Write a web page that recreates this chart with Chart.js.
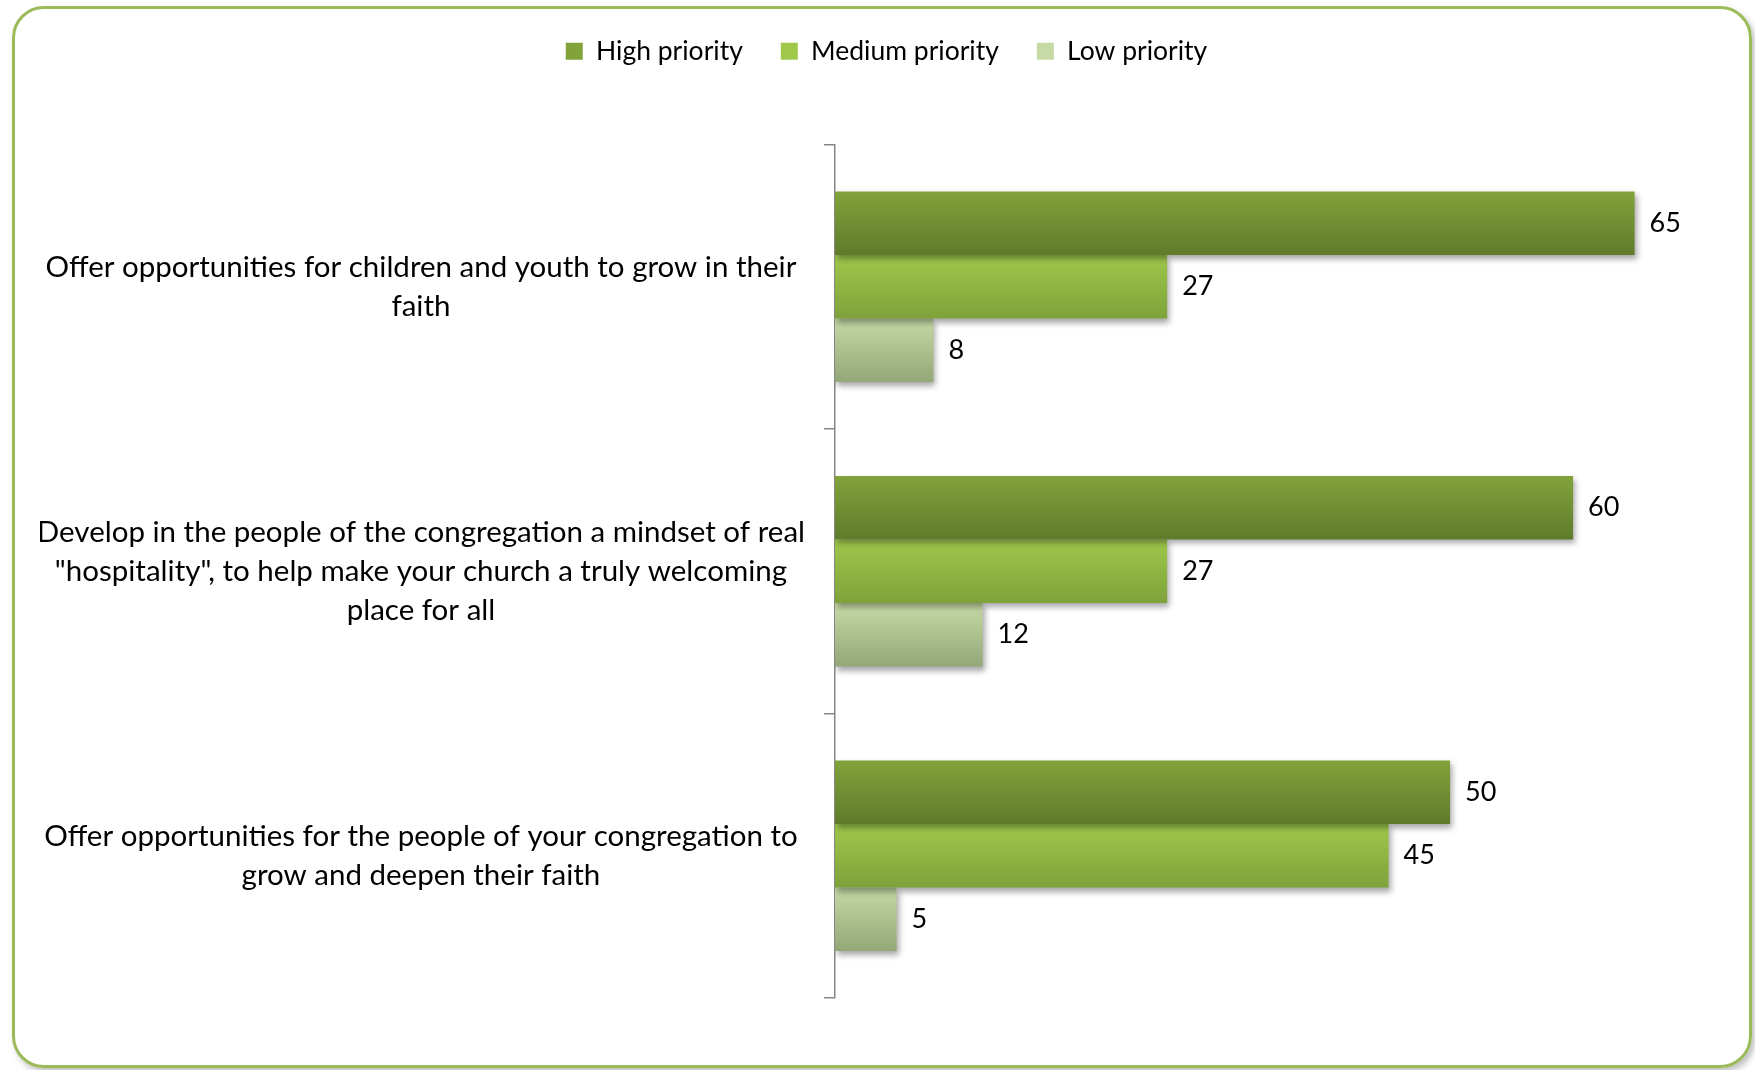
<!DOCTYPE html>
<html lang="en">
<head>
  <meta charset="UTF-8">
  <title>Priorities</title>
  <script src="https://cdn.jsdelivr.net/npm/chart.js"></script>
  <style>
    html, body { margin: 0; padding: 0; background: #fff; }
    .frame {
      position: absolute; left: 12px; top: 6px; width: 1734px; height: 1056px;
      border: 3px solid #9bbb59; border-radius: 32px;
      box-shadow: 3px 4px 6px rgba(0,0,0,0.25);
    }
    #chart { position: absolute; left: 0; top: 0; }
  </style>
</head>
<body>
  <div class="frame"></div>
  <canvas id="chart" width="1755" height="1070"></canvas>

  <script>
    // data
    const categories = [
      ['Offer opportunities for children and youth to grow in their', 'faith'],
      ['Develop in the people of the congregation a mindset of real', '"hospitality", to help make your church a truly welcoming', 'place for all'],
      ['Offer opportunities for the people of your congregation to', 'grow and deepen their faith']
    ];
    const seriesNames = ['High priority', 'Medium priority', 'Low priority'];
    const highValues = [65, 60, 50];
    const mediumValues = [27, 27, 45];
    const lowValues = [8, 12, 5];

    const gradStops = [
      ['#82a33b', '#5f7b2b'],
      ['#9fc84b', '#7ea23a'],
      ['#c6daa6', '#93a777']
    ];
    const FONT = 'Lato';
    const CAT_PCT = 0.67;

    // vertical gradient per bar, bar position taken from the y scale
    function barGradient(c) {
      const chart = c.chart;
      const y = chart.scales.y;
      const stops = gradStops[c.datasetIndex];
      if (!y || y.height == null) return stops[0];
      const catH = y.height / categories.length;
      const barH = catH * CAT_PCT / seriesNames.length;
      const center = y.getPixelForValue(c.dataIndex);
      const top = center - catH * CAT_PCT / 2 + c.datasetIndex * barH;
      const g = chart.ctx.createLinearGradient(0, top, 0, top + barH);
      g.addColorStop(0, stops[0]);
      g.addColorStop(1, stops[1]);
      return g;
    }

    // extra room under the legend
    const legendGap = {
      id: 'legendGap',
      beforeInit(chart) {
        const fit = chart.legend.fit;
        chart.legend.fit = function () {
          fit.call(this);
          this.height += 70;
        };
      }
    };

    const barShadow = {
      id: 'barShadow',
      beforeDatasetsDraw(chart) {
        const ctx = chart.ctx;
        ctx.save();
        ctx.shadowColor = 'rgba(0,0,0,0.35)';
        ctx.shadowBlur = 6;
        ctx.shadowOffsetX = 2;
        ctx.shadowOffsetY = 4;
      },
      afterDatasetsDraw(chart) {
        chart.ctx.restore();
      }
    };

    const valueLabels = {
      id: 'valueLabels',
      afterDatasetsDraw(chart) {
        const ctx = chart.ctx;
        ctx.save();
        ctx.font = '27px ' + FONT;
        ctx.fillStyle = '#000';
        ctx.textAlign = 'left';
        ctx.textBaseline = 'middle';
        chart.data.datasets.forEach((ds, i) => {
          chart.getDatasetMeta(i).data.forEach((bar, j) => {
            ctx.fillText(ds.data[j], bar.x + 15, bar.y);
          });
        });
        ctx.restore();
      }
    };

    const data = {
      labels: categories,
      datasets: [
        { label: seriesNames[0], data: highValues, backgroundColor: barGradient },
        { label: seriesNames[1], data: mediumValues, backgroundColor: barGradient },
        { label: seriesNames[2], data: lowValues, backgroundColor: barGradient }
      ]
    };

    new Chart(document.getElementById('chart'), {
      type: 'bar',
      data: data,
      plugins: [legendGap, barShadow, valueLabels],
      options: {
        indexAxis: 'y',
        responsive: false,
        animation: false,
        layout: { padding: { left: 40, right: 22, top: 0, bottom: 72 } },
        datasets: { bar: { categoryPercentage: CAT_PCT, barPercentage: 1.0 } },
        scales: {
          x: { display: false, min: 0, max: 73 },
          y: {
            afterFit(scale) { scale.width = 795; },
            border: { display: true, color: '#868686', width: 1.5 },
            grid: { display: true, drawOnChartArea: false, tickLength: 11, color: '#868686', lineWidth: 1.5 },
            ticks: {
              crossAlign: 'center',
              padding: 19,
              color: '#000',
              font: { family: FONT, size: 29.5, lineHeight: 1.33 }
            }
          }
        },
        plugins: {
          tooltip: { enabled: false },
          legend: {
            position: 'top',
            labels: {
              color: '#000',
              font: { family: FONT, size: 26.5 },
              boxWidth: 17,
              boxHeight: 17,
              padding: 38,
              generateLabels(chart) {
                return seriesNames.map((name, i) => ({
                  text: name,
                  fillStyle: gradStops[i][0],
                  strokeStyle: gradStops[i][0],
                  lineWidth: 0,
                  datasetIndex: i
                }));
              }
            }
          }
        }
      }
    });
  </script>
</body>
</html>
